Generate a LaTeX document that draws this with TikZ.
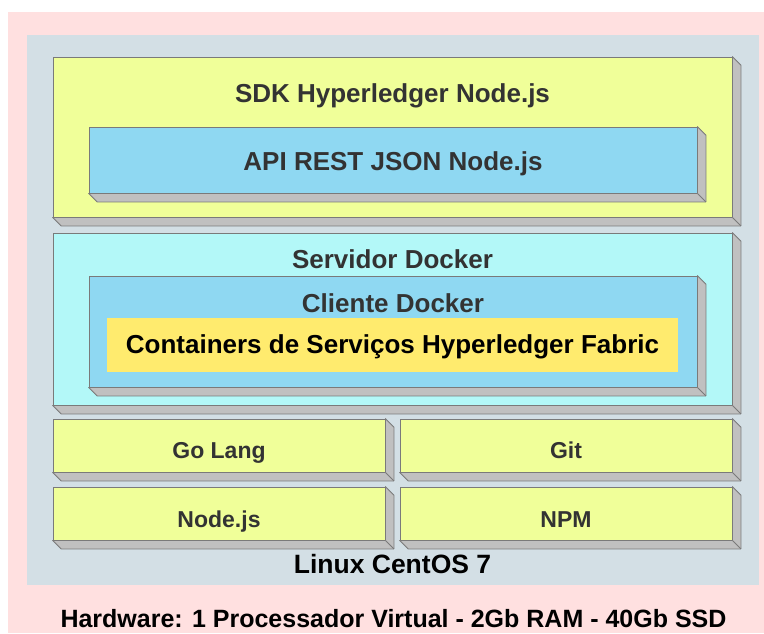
\documentclass[tikz,border=0pt]{standalone}
\usepackage{fontspec}
\setmainfont{Liberation Sans}
\usetikzlibrary{fit}
\definecolor{pinkbg}{HTML}{FFE0E0}
\definecolor{slatebg}{HTML}{D3DFE5}
\definecolor{yel}{HTML}{F0FF99}
\definecolor{blu}{HTML}{8FD8F2}
\definecolor{cya}{HTML}{B3F8F8}
\definecolor{gold}{HTML}{FFEB6E}
\definecolor{shd}{HTML}{C0C0C0}
\definecolor{edge}{HTML}{7A7A7A}
\definecolor{txt}{HTML}{333333}
\tikzset{
  face/.style={draw=edge, line width=0.8pt, inner sep=0pt},
  lbl/.style={font=\bfseries\fontsize{26}{30}\selectfont, text=txt, inner sep=0pt, anchor=base},
  small/.style={font=\bfseries\fontsize{23}{27}\selectfont, text=txt, inner sep=0pt, anchor=base},
  blk/.style={font=\bfseries\fontsize{26}{30}\selectfont, text=black, inner sep=0pt, anchor=base},
}
\newcommand\boxshadow[1]{%
  \filldraw[fill=shd, draw=edge, line width=0.8pt, line join=round]
    (#1.north east) -- ++(8.5,8.5) -- ([shift={(8.5,8.5)}]#1.south east)
    -- ([shift={(8.5,8.5)}]#1.south west) -- (#1.south west) -- (#1.south east) -- cycle;
  \draw[edge, line width=0.8pt] (#1.south east) -- ++(8.5,8.5);
}
\begin{document}
\begin{tikzpicture}[x=1pt,y=-1pt]
\useasboundingbox (0,0) rectangle (764,633);
\fill[pinkbg] (8,12) rectangle (764,633);
\fill[slatebg] (27,35) rectangle (759,585);

% SDK
\node[face, fill=yel, fit={(53,57) (732,217)}] (sdk) {};
\boxshadow{sdk}
\node[lbl] (sdkt) at (392.5,102) {SDK Hyperledger Node.js};
\node[face, fill=blu, fit={(89,127) (697,193)}] (api) {};
\boxshadow{api}
\node[lbl] (apit) at (393,170) {API REST JSON Node.js};

% Docker server
\node[face, fill=cya, fit={(53,233) (732,405)}] (srv) {};
\boxshadow{srv}
\node[lbl] (srvt) at (392.5,268) {Servidor Docker};
\node[face, fill=blu, fit={(89,276) (697,387)}] (cli) {};
\boxshadow{cli}
\node[lbl] (clit) at (393,312) {Cliente Docker};
\fill[gold] (107,318) rectangle (678,372);
\node[blk] (cont) at (392.5,353) {Containers de Serviços Hyperledger Fabric};

% tools
\node[face, fill=yel, fit={(53,419) (385,472)}] (go) {};
\boxshadow{go}
\node[small] (got) at (219,458) {Go Lang};
\node[face, fill=yel, fit={(400,419) (732,472)}] (git) {};
\boxshadow{git}
\node[small] (gitt) at (566,458) {Git};
\node[face, fill=yel, fit={(53,487) (385,540)}] (nodejs) {};
\boxshadow{nodejs}
\node[small] (nodet) at (219,527) {Node.js};
\node[face, fill=yel, fit={(400,487) (732,540)}] (npm) {};
\boxshadow{npm}
\node[small] (npmt) at (566,527) {NPM};

\node[blk, font=\bfseries\fontsize{26.5}{30}\selectfont] (linux) at (392.5,573) {Linux CentOS 7};
\node[blk, font=\bfseries\fontsize{25}{30}\selectfont] (hw) at (393.5,627) {Hardware: 1 Processador Virtual - 2Gb RAM - 40Gb SSD};
\end{tikzpicture}
\end{document}
